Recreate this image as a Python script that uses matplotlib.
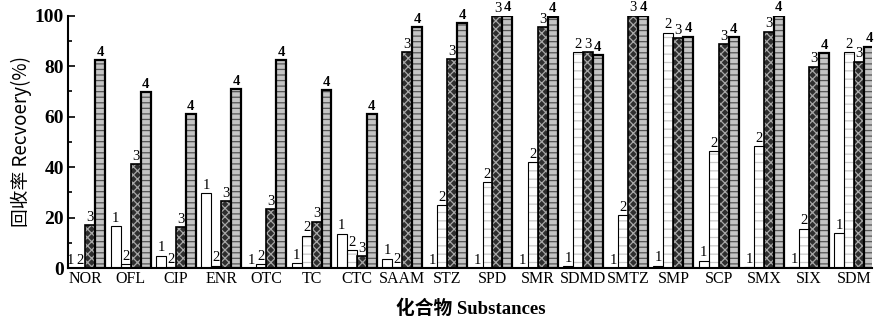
import numpy as np
import matplotlib.pyplot as plt
from matplotlib.ticker import MultipleLocator

plt.rcParams['hatch.linewidth'] = 0.9

substances = ["NOR", "OFL", "CIP", "ENR", "OTC", "TC", "CTC", "SAAM", "STZ", "SPD",
              "SMR", "SDMD", "SMTZ", "SMP", "SCP", "SMX", "SIX", "SDM"]
rec1 = [0, 16.7, 4.9, 29.7, 0, 2.0, 13.6, 3.7, 0, 0, 0, 0.9, 0, 1.0, 2.9, 0.5, 0.3, 13.9]
rec2 = [0, 1.5, 0.5, 1.0, 1.5, 12.8, 7.2, 0.5, 24.8, 34.0, 42.0, 85.7, 21.1, 93.3, 46.2, 48.4, 15.6, 85.5]
rec3 = [17.1, 41.3, 16.1, 26.6, 23.4, 18.4, 4.6, 85.7, 82.9, 99.9, 95.6, 85.5, 100, 91.0, 88.7, 93.7, 79.8, 81.8]
rec4 = [82.3, 69.7, 61.1, 70.9, 82.4, 70.6, 61.0, 95.6, 97.2, 100, 99.6, 84.4, 100, 91.7, 91.4, 100, 85.1, 87.8]
series = [rec1, rec2, rec3, rec4]
series_names = ["1", "2", "3", "4"]

# face, hatch, hatch colour, edge width
faces = ["white", "white", "#2e2e2e", "#c4c4c4"]
hatches = [None, "--", "xxxx", "---"]
hatch_cols = ["white", "#c8c8c8", "#a8a8a8", "#555555"]
edge_w = [0.8, 0.8, 1.2, 1.6]
label_weight = ["normal", "normal", "normal", "bold"]

serif = ["Liberation Serif", "DejaVu Serif"]
mixed = ["Liberation Serif", "Noto Sans CJK SC"]

fig = plt.figure(figsize=(8.75, 3.21), dpi=100)
ax = fig.add_axes([0.078, 0.165, 0.919, 0.786])

x = np.arange(len(substances))
w = 0.22
for i, vals in enumerate(series):
    pos = x + (i - 1.5) * w
    ax.bar(pos, vals, w, color=faces[i], edgecolor=hatch_cols[i], linewidth=0,
           hatch=hatches[i], zorder=2)
    ax.bar(pos, vals, w, fill=False, edgecolor="black", linewidth=edge_w[i], zorder=3)
    for xp, v in zip(pos, vals):
        ax.text(xp, v + 0.5, series_names[i], ha="center", va="bottom",
                fontsize=10.5, family=serif, fontweight=label_weight[i])

ax.set_xlim(-0.38, len(substances) - 0.6)
ax.set_ylim(0, 100)
ax.set_xticks(x)
ax.set_xticklabels(substances, family=serif, fontsize=11.5)
ax.tick_params(axis="x", length=0, pad=2)
ax.yaxis.set_major_locator(MultipleLocator(20))
ax.yaxis.set_minor_locator(MultipleLocator(10))
ax.tick_params(axis="y", which="both", direction="in", width=1.2, pad=3)
ax.tick_params(axis="y", which="major", length=5)
ax.tick_params(axis="y", which="minor", length=3)
for lab in ax.get_yticklabels():
    lab.set_family(serif)
    lab.set_fontweight("bold")
    lab.set_fontsize(14)
ax.spines["top"].set_visible(False)
ax.spines["right"].set_visible(False)
ax.spines["left"].set_linewidth(1.5)
ax.spines["bottom"].set_linewidth(1.5)

ax.set_ylabel("回收率 Recvoery(%)", family=["Noto Sans CJK SC", "DejaVu Sans"],
              fontsize=13.5, labelpad=2)
ax.set_xlabel("化合物 Substances", family=mixed, fontsize=13.5, fontweight="bold",
              labelpad=9)

fig.savefig("out.png", dpi=100)
